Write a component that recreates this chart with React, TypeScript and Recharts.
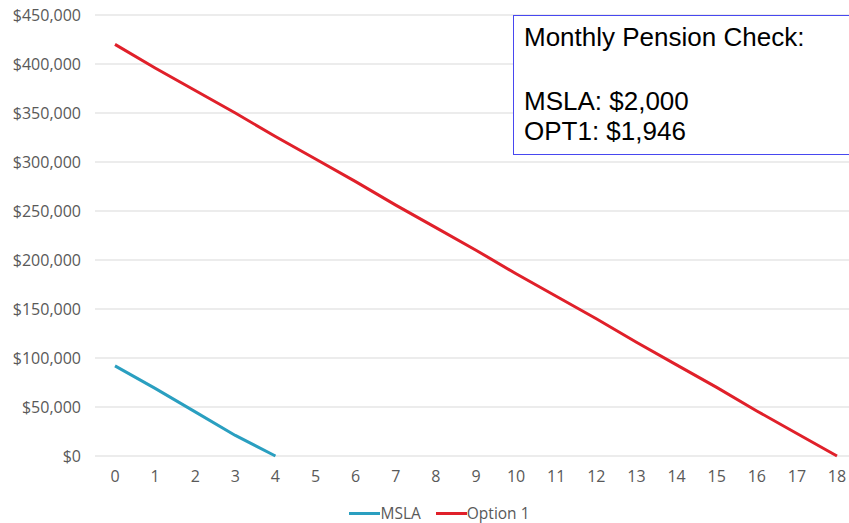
import { LineChart, Line, XAxis, YAxis, CartesianGrid, Legend } from "recharts";

const years = [0, 1, 2, 3, 4, 5, 6, 7, 8, 9, 10, 11, 12, 13, 14, 15, 16, 17, 18];
const msla = [92000, 69000, 45000, 21000, 0];
const option1 = [
  420000, 396000, 373000, 350000, 326000, 303000, 280000, 256000, 233000, 210000,
  186000, 163000, 140000, 116000, 93000, 70000, 46000, 23000, 0,
];
const yTicks = [0, 50000, 100000, 150000, 200000, 250000, 300000, 350000, 400000, 450000];

const data = years.map((y, i) => ({
  year: y,
  msla: i < msla.length ? msla[i] : null,
  option1: option1[i],
}));

const tickStyle = { fontSize: 16, fill: "#595959", fontFamily: "'Open Sans', sans-serif" };

const fmt = (v: number) => "$" + v.toLocaleString("en-US");

const LegendContent = ({ payload }: any) => (
  <div
    style={{
      display: "flex",
      justifyContent: "center",
      gap: 15,
      paddingTop: 11,
      marginLeft: 22,
      fontFamily: "'Open Sans', sans-serif",
      fontSize: 15.5,
      color: "#595959",
    }}
  >
    {(payload || []).map((p: any) => (
      <div key={p.value} style={{ display: "flex", alignItems: "center" }}>
        <span style={{ display: "inline-block", width: 31, height: 3, background: p.color }} />
        <span>{p.value}</span>
      </div>
    ))}
  </div>
);

export default function App() {
  return (
    <div style={{ position: "absolute", left: 0, top: 0, width: 849, height: 523, overflow: "hidden", background: "#fff" }}>
      <LineChart width={860} height={523} data={data} margin={{ top: 15, right: 3, bottom: 8, left: 0 }}>
        <CartesianGrid stroke="#d9d9d9" vertical={false} />
        <XAxis
          dataKey="year"
          axisLine={false}
          tickLine={false}
          tick={tickStyle}
          tickMargin={9}
          height={35}
          padding={{ left: 20, right: 20 }}
          interval={0}
        />
        <YAxis
          domain={[0, 450000]}
          ticks={yTicks}
          axisLine={false}
          tickLine={false}
          tick={tickStyle}
          tickMargin={8}
          width={95}
          tickFormatter={fmt}
        />
        <Legend verticalAlign="bottom" height={24} content={<LegendContent />} />
        <Line
          dataKey="msla"
          name="MSLA"
          stroke="#2a9fc0"
          strokeWidth={3}
          dot={false}
          connectNulls={false}
          isAnimationActive={false}
        />
        <Line
          dataKey="option1"
          name="Option 1"
          stroke="#e0202a"
          strokeWidth={3}
          dot={false}
          isAnimationActive={false}
        />
      </LineChart>
      <div
        style={{
          position: "absolute",
          left: 513,
          top: 15,
          width: 400,
          height: 140,
          border: "1.5px solid #4848f0",
          background: "#fff",
          fontFamily: "'Liberation Sans', Arial, sans-serif",
          fontSize: 26,
          color: "#000",
          boxSizing: "border-box",
        }}
      >
        <div style={{ position: "absolute", left: 10, top: 6, lineHeight: "30px" }}>Monthly Pension Check:</div>
        <div style={{ position: "absolute", left: 10, top: 70, lineHeight: "30px" }}>MSLA: $2,000</div>
        <div style={{ position: "absolute", left: 10, top: 100, lineHeight: "30px" }}>OPT1: $1,946</div>
      </div>
    </div>
  );
}
